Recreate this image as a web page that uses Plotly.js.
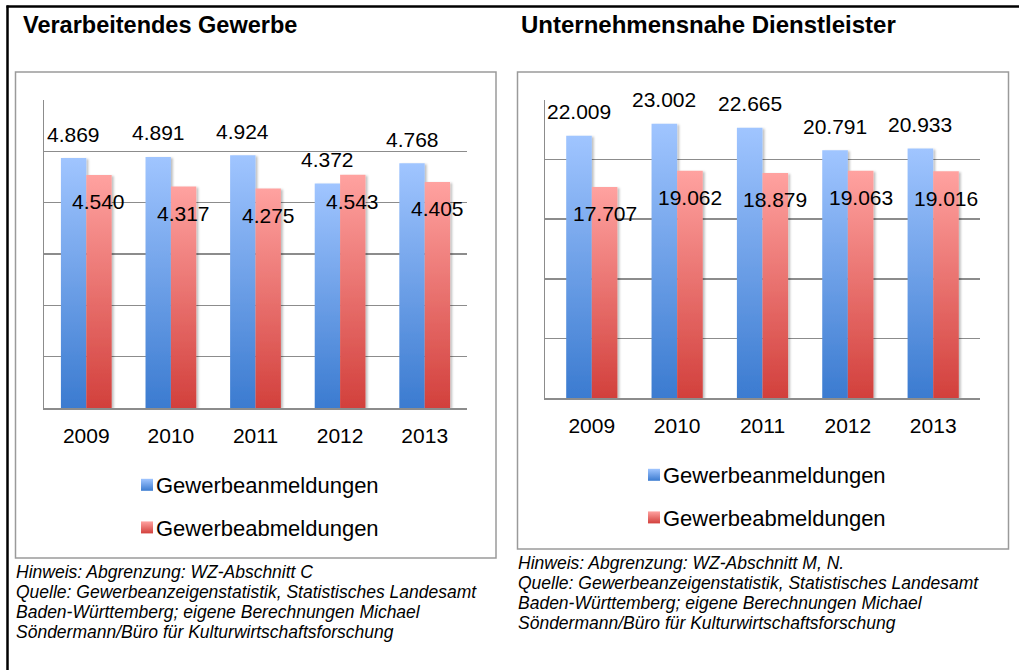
<!DOCTYPE html>
<html>
<head>
<meta charset="utf-8">
<script src="https://cdn.plot.ly/plotly-3.0.1.min.js"></script>
<style>
  html, body { margin: 0; padding: 0; background: #ffffff; }
  #chart { width: 1019px; height: 670px; }
</style>
</head>
<body>
<div id="chart"></div>
<script>
// ---------- data ----------
const years = ['2009', '2010', '2011', '2012', '2013'];
const seriesNames = ['Gewerbeanmeldungen', 'Gewerbeabmeldungen'];

const vgAnmeldungen = [4869, 4891, 4924, 4372, 4768];
const vgAbmeldungen = [4540, 4317, 4275, 4543, 4405];

const udAnmeldungen = [22009, 23002, 22665, 20791, 20933];
const udAbmeldungen = [17707, 19062, 18879, 19063, 19016];

const titleLeft = 'Verarbeitendes Gewerbe';
const titleRight = 'Unternehmensnahe Dienstleister';

const notesLeft = [
  'Hinweis: Abgrenzung: WZ-Abschnitt C',
  'Quelle: Gewerbeanzeigenstatistik, Statistisches Landesamt',
  'Baden-Württemberg; eigene Berechnungen Michael',
  'Söndermann/Büro für Kulturwirtschaftsforschung'
];
const notesRight = [
  'Hinweis: Abgrenzung: WZ-Abschnitt M, N.',
  'Quelle: Gewerbeanzeigenstatistik, Statistisches Landesamt',
  'Baden-Württemberg; eigene Berechnungen Michael',
  'Söndermann/Büro für Kulturwirtschaftsforschung'
];

// ---------- styling ----------
const W = 1019, H = 670;
const FONT = 'Liberation Sans, Arial, Helvetica, sans-serif';
const BLUE = '#6a9be6', RED = '#e86a68';
const GRID = '#8c8c8c';
const BARGAP = 0.4;

const px = v => v / W;          // pixel -> paper x
const py = v => 1 - v / H;      // pixel -> paper y

function fmt(v) {
  const th = Math.floor(v / 1000);
  const rest = String(v % 1000).padStart(3, '0');
  return th + '.' + rest;
}

function barTrace(vals, name, color, xa, ya, legend, group) {
  return {
    type: 'bar', x: years, y: vals, name: name,
    xaxis: xa, yaxis: ya, legend: legend, legendgroup: group,
    showlegend: true,
    marker: { color: color, line: { width: 0 } },
    hoverinfo: 'skip'
  };
}

const data = [
  barTrace(vgAnmeldungen, seriesNames[0], BLUE, 'x', 'y', 'legend', 'a1'),
  barTrace(vgAbmeldungen, seriesNames[1], RED, 'x', 'y', 'legend', 'b1'),
  barTrace(udAnmeldungen, seriesNames[0], BLUE, 'x2', 'y2', 'legend2', 'a2'),
  barTrace(udAbmeldungen, seriesNames[1], RED, 'x2', 'y2', 'legend2', 'b2')
];

// value labels (positioned through the axes' own scales)
const off = (1 - BARGAP) / 4;
function labelAnns(vals, xref, yref, dx, yshift) {
  return vals.map((v, i) => ({
    x: i + dx, y: v, xref: xref, yref: yref,
    text: fmt(v), showarrow: false, yshift: yshift,
    xanchor: 'center', yanchor: 'middle',
    font: { family: FONT, size: 21, color: '#000' }
  }));
}

function noteAnns(lines, x0, y0) {
  return lines.map((t, i) => ({
    x: px(x0), y: py(y0 + i * 20), xref: 'paper', yref: 'paper',
    text: t, showarrow: false, xanchor: 'left', yanchor: 'middle',
    font: { family: FONT, size: 17.5, color: '#000', style: 'italic' }
  }));
}

const annotations = [].concat(
  labelAnns(vgAnmeldungen, 'x', 'y', -off, 24),
  labelAnns(vgAbmeldungen, 'x', 'y', off, -27),
  labelAnns(udAnmeldungen, 'x2', 'y2', -off, 24),
  labelAnns(udAbmeldungen, 'x2', 'y2', off, -27),
  noteAnns(notesLeft, 14, 572),
  noteAnns(notesRight, 516, 563),
  [
    { x: px(21), y: py(25), xref: 'paper', yref: 'paper', text: titleLeft, showarrow: false,
      xanchor: 'left', yanchor: 'middle',
      font: { family: FONT, size: 23.5, color: '#000', weight: 'bold' } },
    { x: px(519), y: py(25), xref: 'paper', yref: 'paper', text: titleRight, showarrow: false,
      xanchor: 'left', yanchor: 'middle',
      font: { family: FONT, size: 24, color: '#000', weight: 'bold' } }
  ]
);

const shapes = [
  // outer frame
  { type: 'line', xref: 'paper', yref: 'paper', x0: px(7.5), x1: px(7.5), y0: py(5.5), y1: py(672),
    line: { color: '#000', width: 2.5 } },
  { type: 'line', xref: 'paper', yref: 'paper', x0: px(6.5), x1: px(1022), y0: py(6.5), y1: py(6.5),
    line: { color: '#000', width: 2.5 } },
  // chart boxes
  { type: 'rect', xref: 'paper', yref: 'paper', x0: px(15.5), x1: px(496), y0: py(72), y1: py(558),
    line: { color: '#9a9a9a', width: 1.5 }, layer: 'below' },
  { type: 'rect', xref: 'paper', yref: 'paper', x0: px(517.5), x1: px(1008.5), y0: py(72), y1: py(549),
    line: { color: '#9a9a9a', width: 1.5 }, layer: 'below' }
];

function xAxis(domain, anchor) {
  return {
    domain: domain, anchor: anchor, type: 'category',
    showline: true, linecolor: GRID, linewidth: 1.5,
    showgrid: false, zeroline: false, ticks: '',
    ticklabelstandoff: 8,
    tickfont: { family: FONT, size: 21, color: '#000' },
    fixedrange: true
  };
}
function yAxis(domain, anchor, max, step) {
  return {
    domain: domain, anchor: anchor, range: [0, max], dtick: step, tick0: 0,
    showline: true, linecolor: GRID, linewidth: 1.5,
    showgrid: true, gridcolor: GRID, gridwidth: 1.5,
    zeroline: false, showticklabels: false, ticks: '',
    fixedrange: true
  };
}

function legendCfg(x, yTop) {
  return {
    x: px(x), y: py(yTop), xanchor: 'left', yanchor: 'top',
    orientation: 'v', traceorder: 'grouped', tracegroupgap: 11,
    bgcolor: 'rgba(0,0,0,0)', borderwidth: 0,
    font: { family: FONT, size: 22, color: '#000' },
    itemclick: false, itemdoubleclick: false
  };
}

const layout = {
  width: W, height: H,
  margin: { l: 0, r: 0, t: 0, b: 0, pad: 0 },
  paper_bgcolor: '#ffffff', plot_bgcolor: 'rgba(0,0,0,0)',
  font: { family: FONT, color: '#000' },
  barmode: 'group', bargap: BARGAP, bargroupgap: 0,
  showlegend: true,
  xaxis: xAxis([px(44), px(467)], 'y'),
  yaxis: yAxis([py(408), py(100)], 'x', 6000, 1000),
  xaxis2: xAxis([px(545), px(980)], 'y2'),
  yaxis2: yAxis([py(398), py(100)], 'x2', 25000, 5000),
  legend: legendCfg(127, 464),
  legend2: legendCfg(634, 454),
  annotations: annotations,
  shapes: shapes
};

const NS = 'http://www.w3.org/2000/svg';
function addDefs(gd) {
  const svg = gd.querySelector('svg.main-svg');
  if (!svg || svg.querySelector('#gBlue')) return;
  let defs = svg.querySelector('defs');
  if (!defs) { defs = document.createElementNS(NS, 'defs'); svg.insertBefore(defs, svg.firstChild); }
  function grad(id, top, bottom) {
    const g = document.createElementNS(NS, 'linearGradient');
    g.setAttribute('id', id);
    g.setAttribute('x1', '0'); g.setAttribute('y1', '0');
    g.setAttribute('x2', '0'); g.setAttribute('y2', '1');
    [[0, top], [1, bottom]].forEach(([o, c]) => {
      const s = document.createElementNS(NS, 'stop');
      s.setAttribute('offset', o);
      s.setAttribute('stop-color', c);
      g.appendChild(s);
    });
    defs.appendChild(g);
  }
  grad('gBlue', '#a0c5ff', '#3b7bd0');
  grad('gRed', '#ffa2a0', '#d2403c');
  const f = document.createElementNS(NS, 'filter');
  f.setAttribute('id', 'barShadow');
  f.setAttribute('x', '-20%'); f.setAttribute('y', '-5%');
  f.setAttribute('width', '150%'); f.setAttribute('height', '115%');
  const ds = document.createElementNS(NS, 'feDropShadow');
  ds.setAttribute('dx', '2'); ds.setAttribute('dy', '1');
  ds.setAttribute('stdDeviation', '1.2');
  ds.setAttribute('flood-color', '#000'); ds.setAttribute('flood-opacity', '0.25');
  f.appendChild(ds);
  defs.appendChild(f);
}

function norm(c) { return (c || '').replace(/\s/g, '').toLowerCase(); }

function applyStyles(gd) {
  addDefs(gd);
  const blueRgb = 'rgb(106,155,230)', redRgb = 'rgb(232,106,104)';
  gd.querySelectorAll('.barlayer path, .legendpoints path').forEach(p => {
    const f = norm(p.style.fill);
    const isBar = !!p.closest('.barlayer');
    if (f === blueRgb) { p.style.fill = 'url(#gBlue)'; if (isBar) p.setAttribute('filter', 'url(#barShadow)'); }
    else if (f === redRgb) { p.style.fill = 'url(#gRed)'; if (isBar) p.setAttribute('filter', 'url(#barShadow)'); }
  });
  // tighten the gap between legend swatch and its text (idempotent);
  // the second legend uses the class "legend2text"
  gd.querySelectorAll('.legendtext, .legend2text').forEach(t => {
    t.setAttribute('x', 29);
    t.querySelectorAll('tspan[x]').forEach(s => s.setAttribute('x', 29));
  });
}

const gd = document.getElementById('chart');
Plotly.newPlot(gd, data, layout, { staticPlot: true, displayModeBar: false }).then(() => {
  applyStyles(gd);
  gd.on && gd.on('plotly_afterplot', () => applyStyles(gd));
  setTimeout(() => applyStyles(gd), 50);
});
</script>
</body>
</html>
